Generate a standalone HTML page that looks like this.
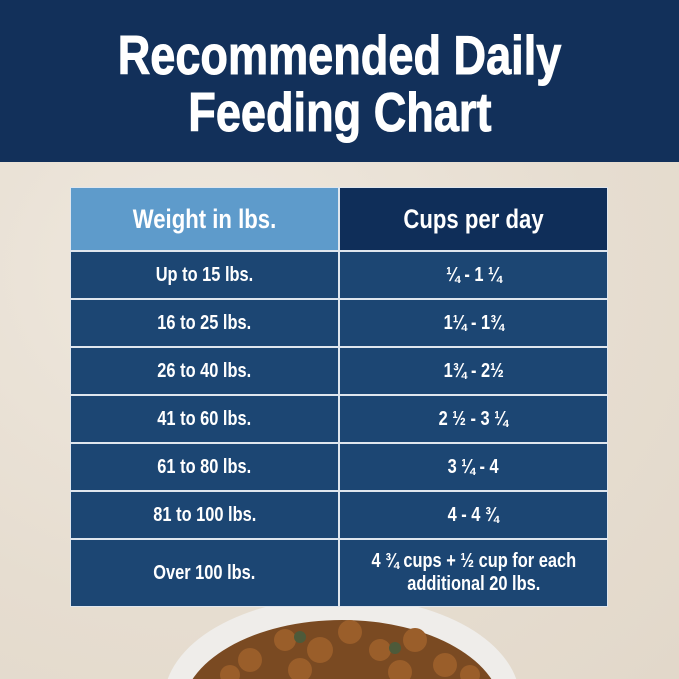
<!DOCTYPE html>
<html><head><style>
*{margin:0;padding:0;box-sizing:border-box}
html,body{width:679px;height:679px;overflow:hidden}
body{position:relative;background:#ebe3d8;font-family:"Liberation Sans",sans-serif;font-weight:bold;color:#fff}
.bg{position:absolute;inset:0;background:radial-gradient(ellipse at 30% 40%,#efe8de 0%,#e6ddd0 60%,#e2d8ca 100%)}
.hdr{position:absolute;left:0;top:0;width:679px;height:162px;background:#12305a;text-align:center}
.hdr div{font-size:55px;line-height:57px}
.hdr span{display:inline-block;transform:scaleX(0.82);-webkit-text-stroke:1px #fff}
.c{position:absolute;display:flex;align-items:center;justify-content:center;text-align:center}
.c span{display:inline-block;transform:scaleX(0.82);white-space:nowrap}
.r{background:#1c4673;font-size:20px;line-height:23px}
</style></head><body>
<div class="bg"></div>
<svg style="position:absolute;left:0;top:0;overflow:hidden" width="679" height="679">
<ellipse cx="342" cy="700" rx="178" ry="103" fill="#efedea"/>
<ellipse cx="342" cy="712" rx="160" ry="92" fill="#7a4a22"/>
<g fill="#9a5e2a">
<circle cx="250" cy="660" r="12"/><circle cx="285" cy="640" r="11"/><circle cx="320" cy="650" r="13"/><circle cx="350" cy="632" r="12"/><circle cx="380" cy="650" r="11"/><circle cx="415" cy="640" r="12"/><circle cx="445" cy="665" r="12"/><circle cx="300" cy="670" r="12"/><circle cx="400" cy="672" r="12"/><circle cx="230" cy="675" r="10"/><circle cx="470" cy="675" r="10"/>
</g>
<circle cx="300" cy="637" r="6" fill="#4d5a3a"/><circle cx="395" cy="648" r="6" fill="#4d5a3a"/>
</svg>
<div class="hdr"><div style="padding-top:27px"><span>Recommended Daily</span></div><div><span>Feeding Chart</span></div></div>
<div style="position:absolute;left:70px;top:187px;width:538px;height:420px;background:#dfe6ee"></div>
<div class="c" style="left:71px;top:188px;width:267px;height:62px;background:#5e9bcb;font-size:27px"><span>Weight in lbs.</span></div>
<div class="c" style="left:340px;top:188px;width:267px;height:62px;background:#0f2e59;font-size:27px"><span>Cups per day</span></div>

<div class="c r" style="left:71px;top:252px;width:267px;height:46px"><span>Up to 15 lbs.</span></div>
<div class="c r" style="left:340px;top:252px;width:267px;height:46px"><span>¼ - 1 ¼</span></div>
<div class="c r" style="left:71px;top:300px;width:267px;height:46px"><span>16 to 25 lbs.</span></div>
<div class="c r" style="left:340px;top:300px;width:267px;height:46px"><span>1¼ - 1¾</span></div>
<div class="c r" style="left:71px;top:348px;width:267px;height:46px"><span>26 to 40 lbs.</span></div>
<div class="c r" style="left:340px;top:348px;width:267px;height:46px"><span>1¾ - 2½</span></div>
<div class="c r" style="left:71px;top:396px;width:267px;height:46px"><span>41 to 60 lbs.</span></div>
<div class="c r" style="left:340px;top:396px;width:267px;height:46px"><span>2 ½ - 3 ¼</span></div>
<div class="c r" style="left:71px;top:444px;width:267px;height:46px"><span>61 to 80 lbs.</span></div>
<div class="c r" style="left:340px;top:444px;width:267px;height:46px"><span>3 ¼ - 4</span></div>
<div class="c r" style="left:71px;top:492px;width:267px;height:46px"><span>81 to 100 lbs.</span></div>
<div class="c r" style="left:340px;top:492px;width:267px;height:46px"><span>4 - 4 ¾</span></div>
<div class="c r" style="left:71px;top:540px;width:267px;height:66px"><span>Over 100 lbs.</span></div>
<div class="c r" style="left:340px;top:540px;width:267px;height:66px"><span>4 ¾ cups + ½ cup for each<br>additional 20 lbs.</span></div>
</body></html>
